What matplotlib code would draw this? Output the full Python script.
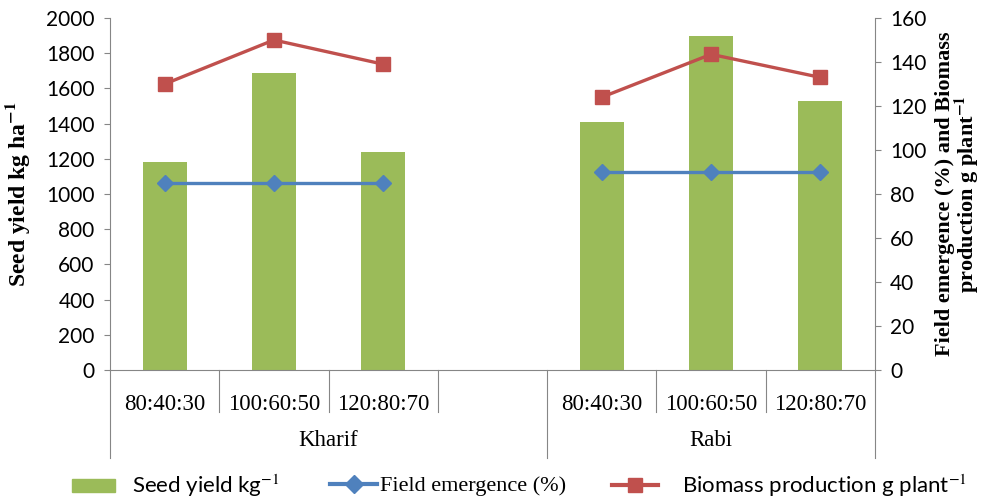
import matplotlib
matplotlib.use('Agg')
import matplotlib.pyplot as plt
from matplotlib.lines import Line2D
from matplotlib.patches import Patch
import matplotlib.transforms as mtransforms

# datos
seasons = ['Kharif', 'Rabi']
doses = ['80:40:30', '100:60:50', '120:80:70']
seed_kharif = [1180, 1685, 1240]
seed_rabi = [1410, 1895, 1530]
emergence_kharif = [85, 85, 85]
emergence_rabi = [90, 90, 90]
biomass_kharif = [130, 150, 139]
biomass_rabi = [124, 143.5, 133]

# posiciones: Kharif ocupa 4 casillas (la ultima vacia), Rabi 3
x_kharif = [0, 1, 2]
x_rabi = [4, 5, 6]

green = '#9BBB59'
blue = '#4F81BD'
red = '#C0504D'
grey = '#868686'
serif = 'Liberation Serif'
sans = 'Lato'

plt.rcParams['font.family'] = sans
plt.rcParams['mathtext.fontset'] = 'stix'

fig = plt.figure(figsize=(9.92, 4.98), dpi=100)
ax1 = fig.add_axes([110 / 992, 128 / 498, 765 / 992, 352 / 498])
ax2 = ax1.twinx()

ax1.bar(x_kharif, seed_kharif, width=0.4, color=green)
ax1.bar(x_rabi, seed_rabi, width=0.4, color=green)
ax2.plot(x_kharif, emergence_kharif, color=blue, lw=2.4, marker='D', ms=8)
ax2.plot(x_rabi, emergence_rabi, color=blue, lw=2.4, marker='D', ms=8)
ax2.plot(x_kharif, biomass_kharif, color=red, lw=2.4, marker='s', ms=10)
ax2.plot(x_rabi, biomass_rabi, color=red, lw=2.4, marker='s', ms=10)

ax1.set_xlim(-0.5, 6.5)
ax1.set_ylim(0, 2000)
ax1.set_yticks(range(0, 2001, 200))
ax2.set_ylim(0, 160)
ax2.set_yticks(range(0, 161, 20))

for ax in (ax1, ax2):
    for s in ax.spines.values():
        s.set_visible(False)
    ax.tick_params(axis='y', length=4, color=grey, labelsize=15, pad=7)
ax1.spines['left'].set_visible(True)
ax1.spines['left'].set_color(grey)
ax1.spines['bottom'].set_visible(True)
ax1.spines['bottom'].set_color(grey)
ax2.spines['right'].set_visible(True)
ax2.spines['right'].set_color(grey)

# etiquetas de categorias en dos niveles
ax1.set_xticks(x_kharif + x_rabi)
ax1.set_xticklabels(doses + doses, family=serif, fontsize=16.5)
ax1.tick_params(axis='x', length=0, pad=17)

trans = mtransforms.blended_transform_factory(ax1.transData, ax1.transAxes)
px = 1 / 352
for b in [0.5, 1.5, 2.5, 4.5, 5.5]:
    ax1.plot([b, b], [0, -42 * px], color=grey, lw=0.8, transform=trans, clip_on=False)
for b in [-0.5, 3.5, 6.5]:
    ax1.plot([b, b], [0, -88 * px], color=grey, lw=0.8, transform=trans, clip_on=False)
ax1.text(1.5, -70 * px, seasons[0], transform=trans, ha='center', va='center', family=serif, fontsize=16.5)
ax1.text(5.0, -70 * px, seasons[1], transform=trans, ha='center', va='center', family=serif, fontsize=16.5)

fig.text(18 / 992, 1 - 194 / 498, 'Seed yield kg ha$^{\\mathbf{-1}}$', rotation=90, ha='center', va='center',
         family=serif, fontweight='bold', fontsize=17)
fig.text(958 / 992, 1 - 194 / 498, 'Field emergence (%) and Biomass\nproduction g plant$^{\\mathbf{-1}}$', rotation=90,
         ha='center', va='center', family=serif, fontweight='bold', fontsize=16, linespacing=0.9)

# leyenda en tres piezas para colocar cada entrada
fs = 16
ly = 1 - 486 / 498
leg1 = fig.legend([Patch(color=green)], ['Seed yield kg$^{-1}$'], loc='center left',
                  bbox_to_anchor=(72 / 992, ly), frameon=False, fontsize=fs, borderpad=0, borderaxespad=0,
                  handlelength=43 / 22.2, handleheight=12 / 22.2, handletextpad=17 / 22.2)
leg2 = fig.legend([Line2D([], [], color=blue, lw=3, marker='D', ms=9)], ['Field emergence (%)'], loc='center left',
                  bbox_to_anchor=(330 / 992, ly), frameon=False, fontsize=fs, borderpad=0, borderaxespad=0,
                  handlelength=47 / 22.2, handletextpad=3 / 22.2)
leg2.get_texts()[0].set_family(serif)
leg3 = fig.legend([Line2D([], [], color=red, lw=3, marker='s', ms=10)], ['Biomass production g plant$^{-1}$'],
                  loc='center left', bbox_to_anchor=(612 / 992, ly), frameon=False, fontsize=fs, borderpad=0,
                  borderaxespad=0, handlelength=46 / 22.2, handletextpad=24 / 22.2)

fig.savefig('out.png', dpi=100)
